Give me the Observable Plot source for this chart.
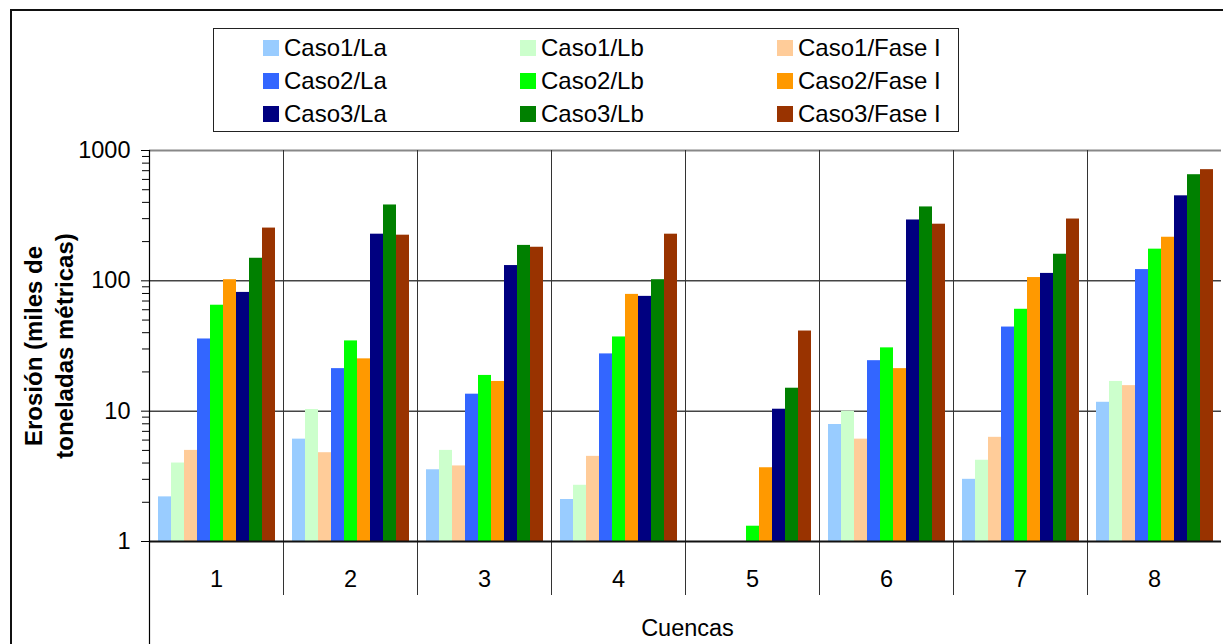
<!DOCTYPE html>
<html><head><meta charset="utf-8">
<script src="https://cdn.jsdelivr.net/npm/d3@7"></script>
<script src="https://cdn.jsdelivr.net/npm/@observablehq/plot@0.6"></script>
<style>
body{margin:0;background:#fff;font-family:"Liberation Sans",Arial,sans-serif;}
#wrap{position:relative;width:1223px;height:644px;overflow:hidden;background:#fff;}
#chart{position:absolute;left:0;top:0;}
#outer{position:absolute;left:10px;top:9px;width:1300px;height:700px;border-left:2px solid #111;border-top:2px solid #111;pointer-events:none;}
#legend{position:absolute;left:213px;top:28px;width:746px;height:104px;border:1px solid #222;box-sizing:border-box;background:#fff;}
.item{position:absolute;display:flex;align-items:center;font-size:24px;line-height:24px;height:24px;color:#000;white-space:nowrap;}
.sw{width:16px;height:16px;margin-right:5px;flex:none;}
</style></head><body>
<div id="wrap"><div id="chart"></div><div id="outer"></div><div id="legend"></div></div>
<script>
const cuencas = ["1", "2", "3", "4", "5", "6", "7", "8"];
const series = ["Caso1/La", "Caso1/Lb", "Caso1/Fase I", "Caso2/La", "Caso2/Lb", "Caso2/Fase I", "Caso3/La", "Caso3/Lb", "Caso3/Fase I"];
const colors = ["#99CCFF", "#CCFFCC", "#FFCC99", "#3366FF", "#00FF00", "#FF9900", "#000080", "#008000", "#993300"];

const caso1La    = [2.2, 6.1, 3.55, 2.1, null, 7.9, 3.0, 11.7];
const caso1Lb    = [4.0, 10.3, 5.0, 2.7, null, 10.0, 4.2, 16.9];
const caso1Fase  = [5.0, 4.8, 3.8, 4.5, null, 6.1, 6.3, 15.7];
const caso2La    = [35.8, 21.2, 13.5, 27.5, null, 24.4, 44.2, 122];
const caso2Lb    = [65, 34.6, 18.8, 37.1, 1.31, 30.6, 60.5, 175];
const caso2Fase  = [102, 25.2, 16.9, 78.7, 3.68, 21.2, 106, 216];
const caso3La    = [81.5, 228, 131, 76, 10.35, 293, 114, 449];
const caso3Lb    = [149, 382, 187, 102, 15.0, 369, 160, 652];
const caso3Fase  = [254, 224, 181, 228, 41.2, 272, 298, 713];

const majorTicks = [1, 10, 100, 1000];
const minorTicks = [2, 3, 4, 5, 6, 7, 8, 9, 20, 30, 40, 50, 60, 70, 80, 90, 200, 300, 400, 500, 600, 700, 800, 900];
const yTitle = "Erosión (miles de\ntoneladas métricas)";
const xTitle = "Cuencas";

const valuesBySeries = [caso1La, caso1Lb, caso1Fase, caso2La, caso2Lb, caso2Fase, caso3La, caso3Lb, caso3Fase];
const data = cuencas.flatMap((c, i) => series.map((s, j) => ({cuenca: c, serie: s, value: valuesBySeries[j][i]})))
  .filter(d => d.value != null);

const chart = Plot.plot({
  width: 1223, height: 644,
  marginLeft: 148, marginRight: 1, marginTop: 150, marginBottom: 103,
  style: {fontFamily: '"Liberation Sans", Arial, sans-serif', fontSize: "23.5px", background: "transparent", color: "#000", overflow: "visible"},
  fx: {domain: cuencas, padding: 0, label: null},
  x: {domain: series, paddingInner: 0, paddingOuter: 0.65, axis: null},
  y: {type: "log", domain: [1, 1000]},
  color: {domain: series, range: colors},
  marks: [
    Plot.ruleY([10, 100], {stroke: "#444", strokeWidth: 1.5}),
    Plot.barY(data, {fx: "cuenca", x: "serie", y1: 1, y2: "value", fill: "serie"}),
    Plot.ruleY([1000], {stroke: "#888", strokeWidth: 2}),
    Plot.frame({anchor: "left", stroke: "#333", strokeWidth: 1, insetBottom: -53}),
    Plot.ruleY([1], {stroke: "#111", strokeWidth: 2}),
    Plot.frame({anchor: "left", stroke: "#000", strokeWidth: 1.2, insetBottom: -103, facetAnchor: "left"}),
    Plot.axisY({ticks: minorTicks, tickSize: 7, fill: "none", label: null}),
    Plot.axisY({ticks: majorTicks, tickSize: 8, tickPadding: 11, tickFormat: d => String(d), label: null}),
    Plot.axisFx({anchor: "bottom", tickSize: 0, tickPadding: 29, label: null}),
    Plot.text([{c: "4", t: xTitle}], {fx: "c", text: "t", frameAnchor: "bottom-right", textAnchor: "middle", lineAnchor: "middle", dx: 2, dy: 87}),
    Plot.text([yTitle], {frameAnchor: "left", rotate: -90, dx: -102, fontSize: 24, fontWeight: "bold", lineHeight: 1.3, lineAnchor: "middle", textAnchor: "middle", facetAnchor: "left"})
  ]
});
document.getElementById("chart").appendChild(chart);

const legend = document.getElementById("legend");
series.forEach((s, j) => {
  const col = j % 3, row = Math.floor(j / 3);
  const item = document.createElement("div");
  item.className = "item";
  item.style.left = (49 + col * 257) + "px";
  item.style.top = (7 + row * 33) + "px";
  const sw = document.createElement("div");
  sw.className = "sw";
  sw.style.background = colors[j];
  const label = document.createElement("span");
  label.textContent = s;
  item.appendChild(sw);
  item.appendChild(label);
  legend.appendChild(item);
});
</script>
</body></html>
